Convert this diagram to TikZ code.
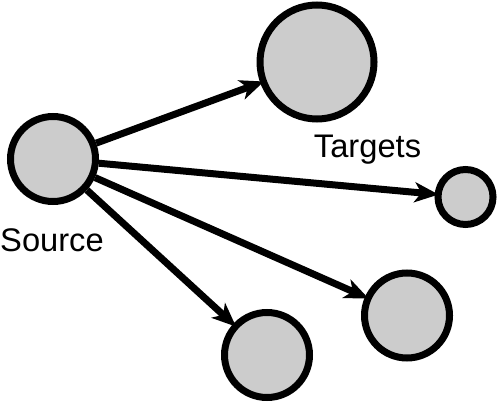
\documentclass[tikz,border=0pt]{standalone}
\usepackage{fontspec}
\setmainfont{Liberation Sans}
\usepackage{tikz}
\usetikzlibrary{arrows.meta,positioning}
\definecolor{nodegray}{RGB}{204,204,204}

\begin{document}
\begin{tikzpicture}[
    x=0.75pt, y=-0.75pt,
    site/.style={circle, draw=black, fill=nodegray, line width=5.25pt, inner sep=0pt},
    caption/.style={font=\fontsize{24.5}{28}\selectfont, anchor=base},
    arrow/.style={-{Stealth[length=18pt,width=15pt,inset=5pt]}, line width=5.25pt, shorten >=-3pt}
]
\useasboundingbox (0,0) rectangle (498,402);

% Source
\node[site, minimum size=85*0.75pt] (source) at (53,159) {};
\node[caption] (sourcelbl) at (52,251) {Source};

% Targets
\node[site, minimum size=114*0.75pt] (bigtarget) at (317,62) {};
\node[site, minimum size=55*0.75pt] (smalltarget) at (465.5,197) {};
\node[site, minimum size=85*0.75pt] (righttarget) at (407,315.5) {};
\node[site, minimum size=85*0.75pt] (lowtarget) at (267,355) {};
\node[caption] (targetslbl) at (367.5,158) {Targets};

% Arrows
\draw[arrow] (source) -- (bigtarget);
\draw[arrow] (source) -- (smalltarget);
\draw[arrow] (source) -- (righttarget);
\draw[arrow] (source) -- (lowtarget);

\end{tikzpicture}
\end{document}
